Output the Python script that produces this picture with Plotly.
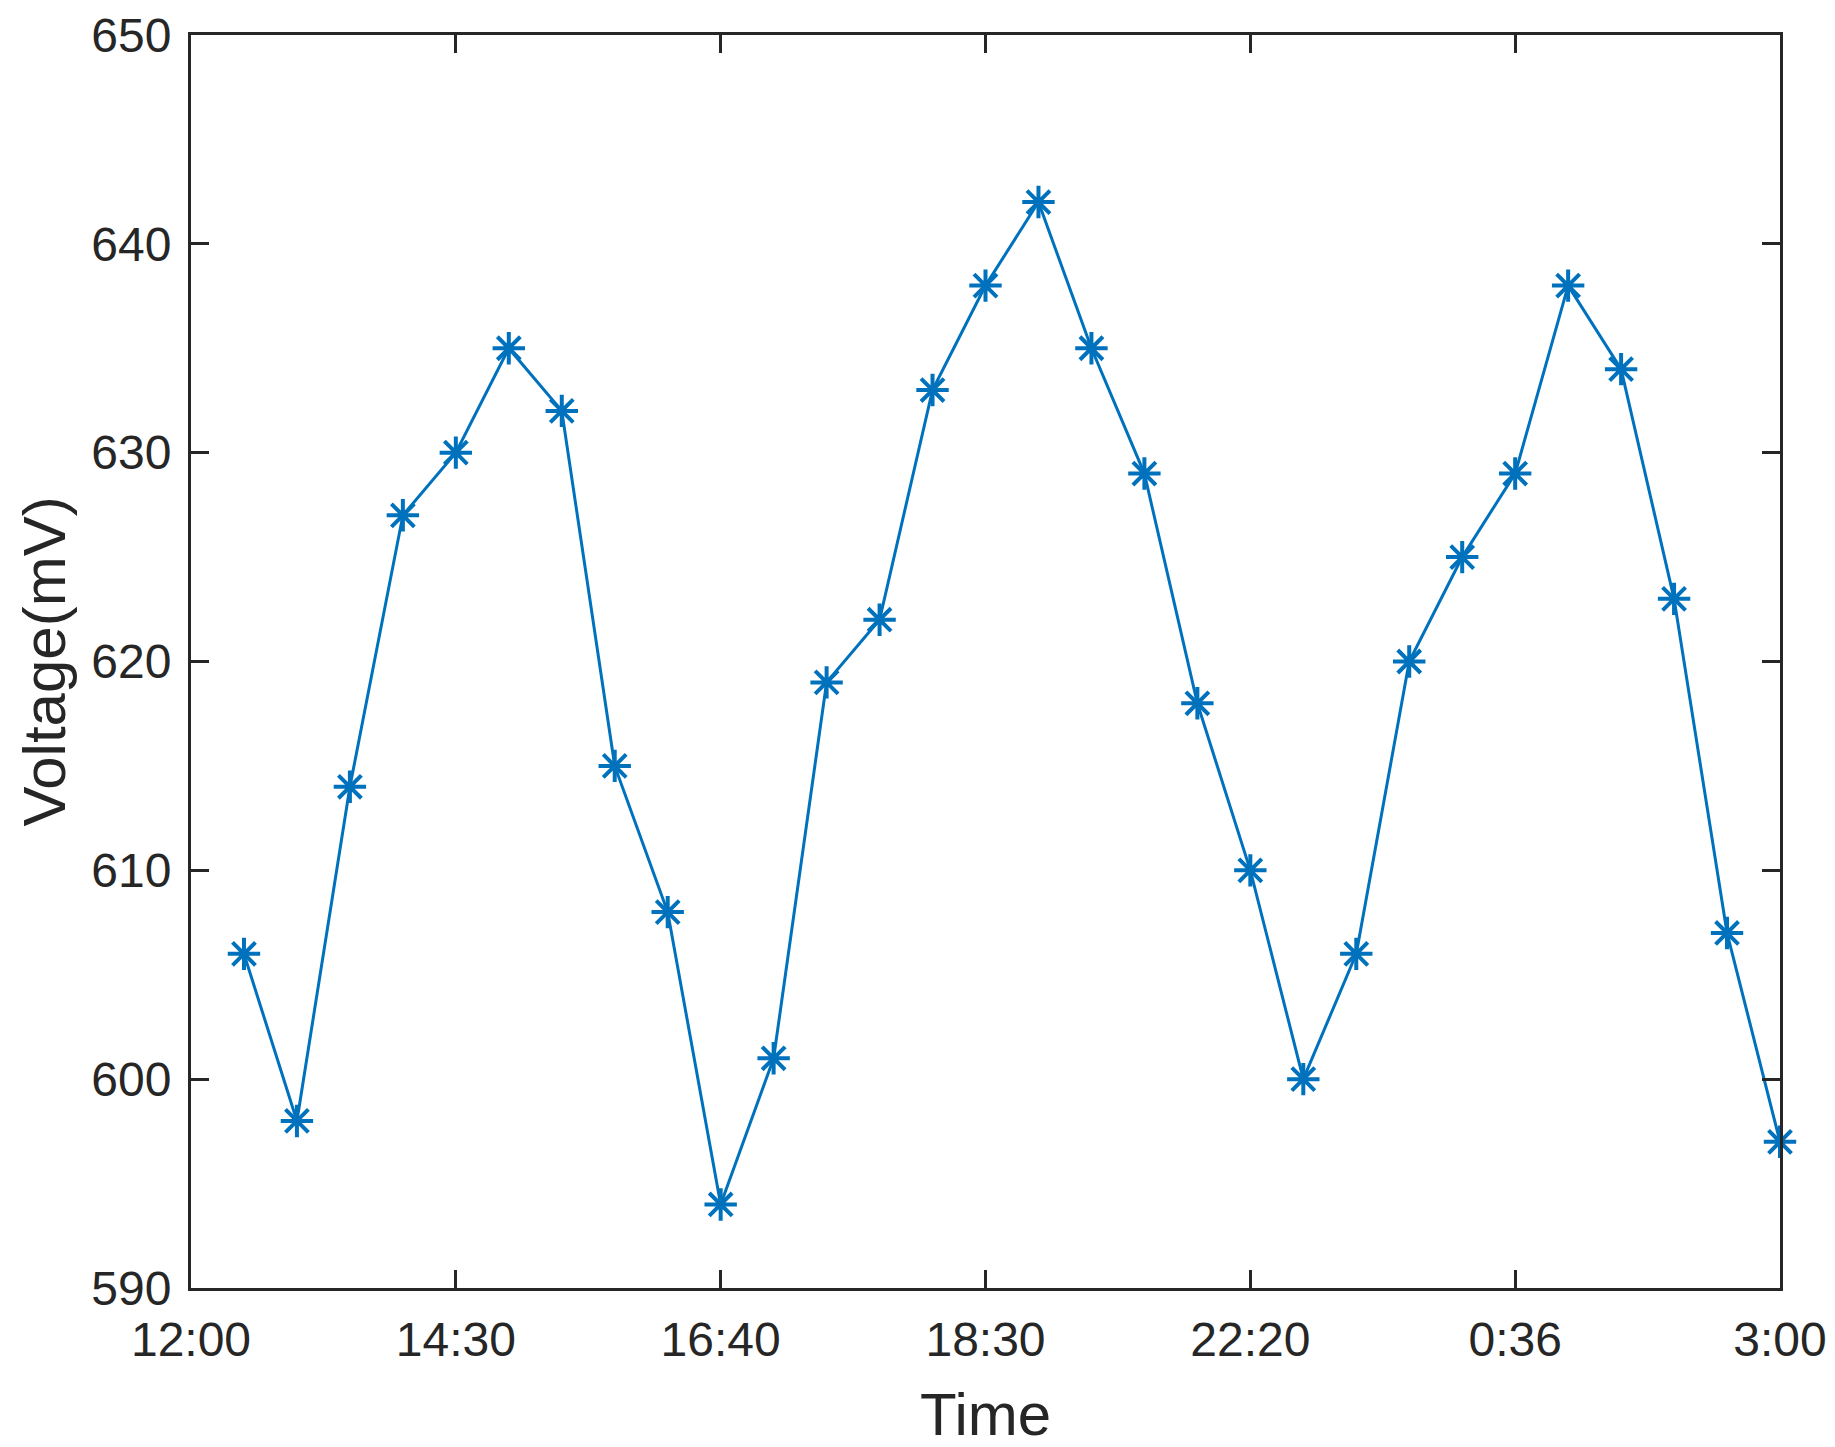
import plotly.graph_objects as go

x_index = list(range(1, 31))
voltage = [606, 598, 614, 627, 630, 635, 632, 615, 608, 594,
           601, 619, 622, 633, 638, 642, 635, 629, 618, 610,
           600, 606, 620, 625, 629, 638, 634, 623, 607, 597]
x_tick_vals = [0, 5, 10, 15, 20, 25, 30]
x_tick_text = ["12:00", "14:30", "16:40", "18:30", "22:20", "0:36", "3:00"]
y_tick_vals = [590, 600, 610, 620, 630, 640, 650]

blue = "#0072BD"
axc = "#262626"
font = "Liberation Sans, Arial, sans-serif"

fig = go.Figure()
fig.add_trace(go.Scatter(
    x=x_index, y=voltage, mode="lines+markers",
    line=dict(color=blue, width=3),
    marker=dict(symbol="asterisk-open", size=27, color=blue,
                line=dict(color=blue, width=4)),
    showlegend=False, cliponaxis=False,
))

axis_common = dict(
    showgrid=False, zeroline=False, showline=True, linecolor=axc, linewidth=3,
    mirror="ticks", ticks="inside", ticklen=18, tickwidth=3, tickcolor=axc,
    tickfont=dict(family=font, size=48, color=axc), automargin=False,
)
fig.update_xaxes(range=[0, 30], tickvals=x_tick_vals, ticktext=x_tick_text,
                 ticklabelstandoff=7, **axis_common)
fig.update_yaxes(range=[590, 650], tickvals=y_tick_vals,
                 ticklabelstandoff=7, **axis_common)
fig.add_annotation(text="Time", xref="paper", yref="paper", x=0.5, y=-0.1006,
                   xanchor="center", yanchor="middle", showarrow=False,
                   font=dict(family=font, size=60, color=axc))
fig.add_annotation(text="Voltage(mV)", xref="paper", yref="paper", x=-0.0925, y=0.5,
                   xanchor="center", yanchor="middle", showarrow=False, textangle=-90,
                   font=dict(family=font, size=60, color=axc))
fig.update_layout(
    width=1819, height=1431,
    margin=dict(l=183, r=47, t=27, b=151, autoexpand=False),
    plot_bgcolor="white", paper_bgcolor="white",
)
fig.write_html("out.html")
